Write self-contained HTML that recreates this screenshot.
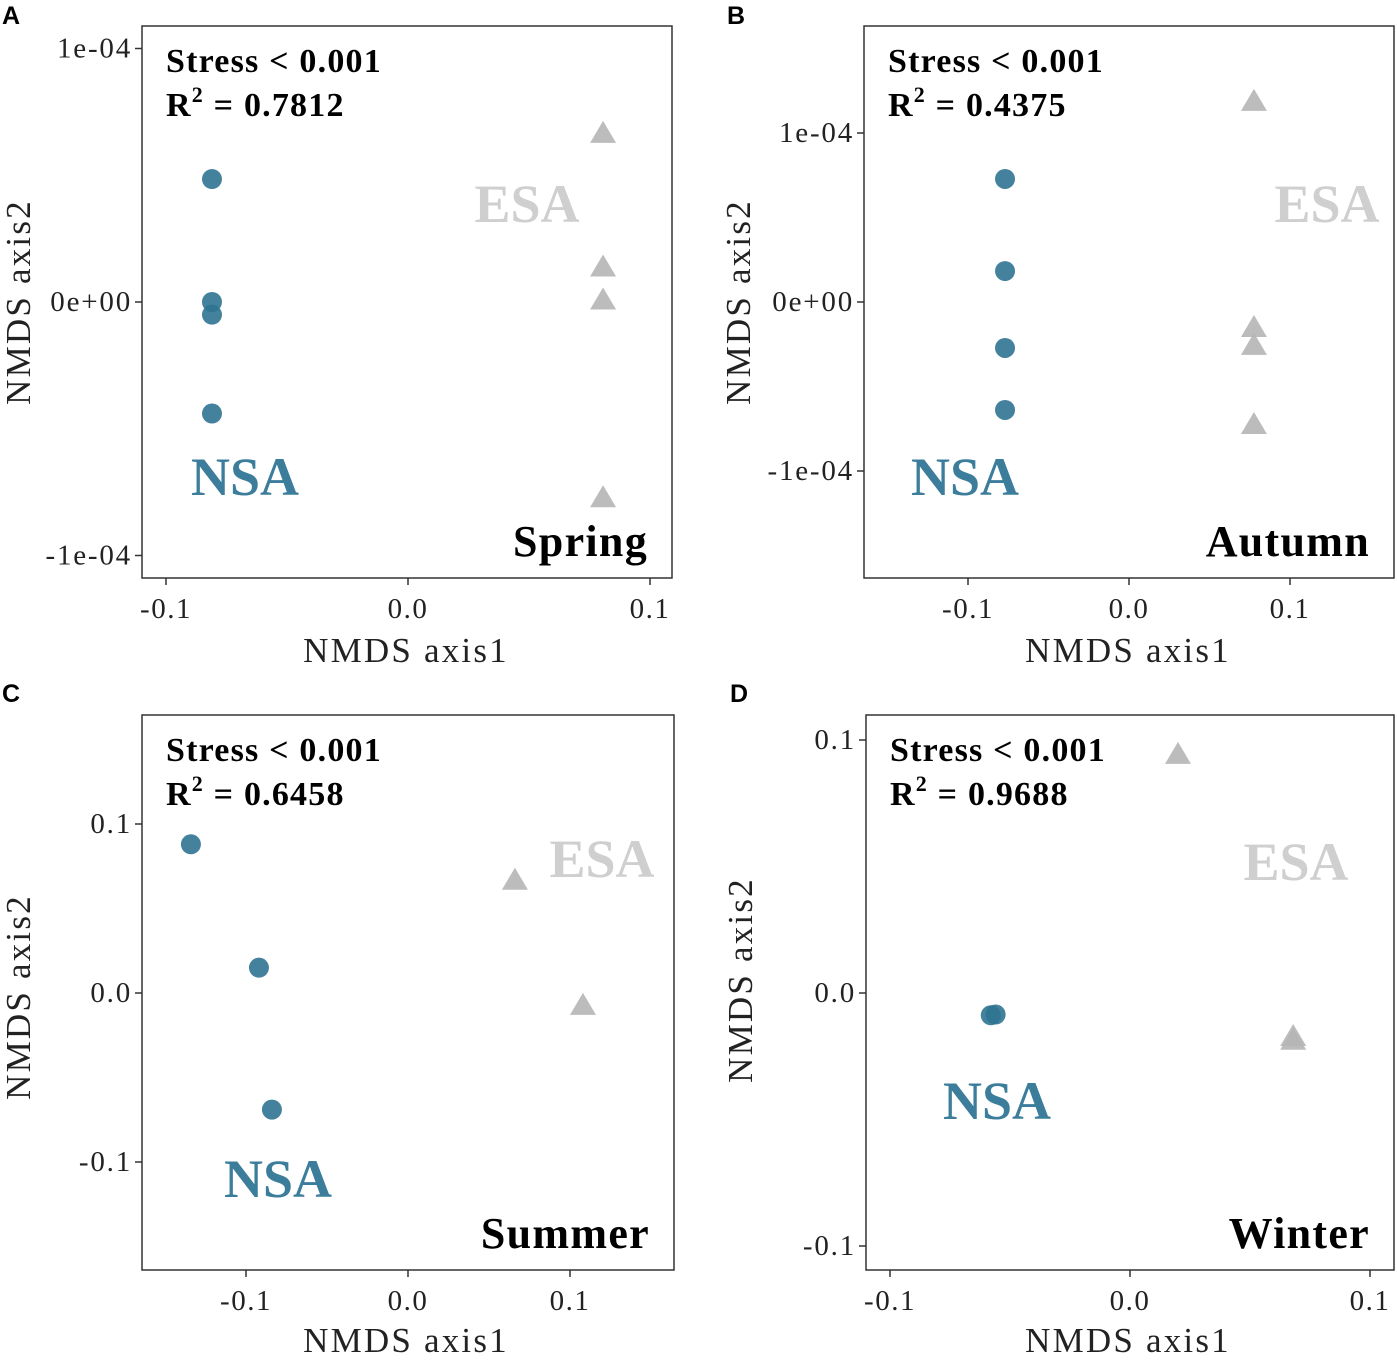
<!DOCTYPE html>
<html><head><meta charset="utf-8"><style>
body{margin:0;background:#fff}
svg text{font-family:"Liberation Serif",serif}
</style></head><body>
<svg id="fig" width="1397" height="1356" viewBox="0 0 1397 1356" xmlns="http://www.w3.org/2000/svg"></svg>
<script>
// Panel A (Spring)
const aNsaX=[-0.081,-0.081,-0.081,-0.081];
const aNsaY=[0.485e-4,0,-0.05e-4,-0.44e-4];
const aEsaX=[0.0806,0.0806,0.0806,0.0806];
const aEsaY=[0.667e-4,0.14e-4,0.01e-4,-0.77e-4];
const aXTicks=[-0.1,0,0.1], aXLabels=["-0.1","0.0","0.1"];
const aYTicks=[1e-4,0,-1e-4], aYLabels=["1e-04","0e+00","-1e-04"];
// Panel B (Autumn)
const bNsaX=[-0.077,-0.077,-0.077,-0.077];
const bNsaY=[0.728e-4,0.183e-4,-0.272e-4,-0.639e-4];
const bEsaX=[0.0776,0.0776,0.0776,0.0776];
const bEsaY=[1.19e-4,-0.148e-4,-0.254e-4,-0.722e-4];
const bXTicks=[-0.1,0,0.1], bXLabels=["-0.1","0.0","0.1"];
const bYTicks=[1e-4,0,-1e-4], bYLabels=["1e-04","0e+00","-1e-04"];
// Panel C (Summer)
const cNsaX=[-0.134,-0.092,-0.084];
const cNsaY=[0.088,0.015,-0.069];
const cEsaX=[0.066,0.108];
const cEsaY=[0.067,-0.007];
const cXTicks=[-0.1,0,0.1], cXLabels=["-0.1","0.0","0.1"];
const cYTicks=[0.1,0,-0.1], cYLabels=["0.1","0.0","-0.1"];
// Panel D (Winter)
const dNsaX=[-0.058,-0.056];
const dNsaY=[-0.0088,-0.0085];
const dEsaX=[0.02,0.068,0.068];
const dEsaY=[0.0945,-0.0170,-0.0185];
const dXTicks=[-0.1,0,0.1], dXLabels=["-0.1","0.0","0.1"];
const dYTicks=[0.1,0,-0.1], dYLabels=["0.1","0.0","-0.1"];

const NS="http://www.w3.org/2000/svg";
const svg=document.getElementById('fig');
function mk(tag,attrs,parent,txt){const e=document.createElementNS(NS,tag);for(const k in attrs)e.setAttribute(k,attrs[k]);if(txt!==undefined)e.textContent=txt;(parent||svg).appendChild(e);return e;}

const panels=[
 {id:'a',letter:'A',box:[142,26,672,578],x0:408,xs:2420,y0:302,ys:253.5e4,nx:aNsaX,ny:aNsaY,ex:aEsaX,ey:aEsaY,xt:aXTicks,xl:aXLabels,yt:aYTicks,yl:aYLabels,r2:"0.7812",season:"Spring",nsa:[245,495],esa:[527,222],lx:2,ly:24,xtitle:[406,662],ytitle:[30,302]},
 {id:'b',letter:'B',box:[864,26,1394,578],x0:1129,xs:1610,y0:302,ys:169e4,nx:bNsaX,ny:bNsaY,ex:bEsaX,ey:bEsaY,xt:bXTicks,xl:bXLabels,yt:bYTicks,yl:bYLabels,r2:"0.4375",season:"Autumn",nsa:[965,495],esa:[1327,222],lx:727,ly:24,xtitle:[1128,662],ytitle:[750,302]},
 {id:'c',letter:'C',box:[142,715,674,1270],x0:408,xs:1620,y0:993,ys:1690,nx:cNsaX,ny:cNsaY,ex:cEsaX,ey:cEsaY,xt:cXTicks,xl:cXLabels,yt:cYTicks,yl:cYLabels,r2:"0.6458",season:"Summer",nsa:[278,1197],esa:[602,877],lx:2,ly:702,xtitle:[406,1352],ytitle:[30,997]},
 {id:'d',letter:'D',box:[866,715,1394,1270],x0:1130,xs:2400,y0:993,ys:2530,nx:dNsaX,ny:dNsaY,ex:dEsaX,ey:dEsaY,xt:dXTicks,xl:dXLabels,yt:dYTicks,yl:dYLabels,r2:"0.9688",season:"Winter",nsa:[997,1119],esa:[1296,880],lx:730,ly:702,xtitle:[1128,1352],ytitle:[752,980]}
];

panels.forEach(p=>{
 const g=mk('g',{});  
 const [l,t,r,b]=p.box;
 const X=v=>p.x0+v*p.xs, Y=v=>p.y0-v*p.ys;
 const lt=mk('text',{x:p.lx,y:p.ly,'font-size':25,'font-weight':'bold',style:'font-family:"Liberation Sans",sans-serif'},g,p.letter);
  
 const bx=mk('rect',{x:l,y:t,width:r-l,height:b-t,fill:'none',stroke:'#333','stroke-width':1.5},g);
  
 p.xt.forEach((v,i)=>{const x=X(v);mk('line',{x1:x,x2:x,y1:b,y2:b+7,stroke:'#333','stroke-width':1.5},g);
  const tx=mk('text',{x:x,y:b+40,'font-size':29,'text-anchor':'middle',fill:'#222','letter-spacing':1.5},g,p.xl[i]);
   });
 p.yt.forEach((v,i)=>{const y=Y(v);mk('line',{x1:l-7,x2:l,y1:y,y2:y,stroke:'#333','stroke-width':1.5},g);
  const tx=mk('text',{x:l-10,y:y+9,'font-size':29,'text-anchor':'end',fill:'#222','letter-spacing':1.8},g,p.yl[i]);
   });
 const xtl=mk('text',{x:p.xtitle[0],y:p.xtitle[1],'font-size':35,'text-anchor':'middle',fill:'#222','letter-spacing':2.2},g,'NMDS axis1');
  
 const ytl=mk('text',{x:p.ytitle[0],y:p.ytitle[1],'font-size':35,'text-anchor':'middle',fill:'#222','letter-spacing':2.2,transform:`rotate(-90 ${p.ytitle[0]} ${p.ytitle[1]})`},g,'NMDS axis2');
  
 const s1=mk('text',{x:l+24,y:t+46,'font-size':34,'font-weight':'bold','letter-spacing':1.2},g,'Stress < 0.001');
  
 const s2=mk('text',{x:l+24,y:t+90,'font-size':34,'font-weight':'bold','letter-spacing':1.2},g);
  
 s2.innerHTML='R<tspan font-size="22" dy="-14">2</tspan><tspan dy="14"> = '+p.r2+'</tspan>';
 const ns=mk('text',{x:p.nsa[0],y:p.nsa[1],'font-size':54,'font-weight':'bold','text-anchor':'middle',fill:'#3b7d9a'},g,'NSA');
  
 const es=mk('text',{x:p.esa[0],y:p.esa[1],'font-size':54,'font-weight':'bold','text-anchor':'middle',fill:'#cfcfcf'},g,'ESA');
  
 const se=mk('text',{x:r-24,y:b-22,'font-size':44,'font-weight':'bold','text-anchor':'end','letter-spacing':1.3},g,p.season);
  
 p.nx.forEach((v,i)=>{const c=mk('circle',{cx:X(v),cy:Y(p.ny[i]),r:10,fill:'#2f7391','fill-opacity':0.9},g);
   });
 p.ex.forEach((v,i)=>{const x=X(v),y=Y(p.ey[i]);
  const tr=mk('polygon',{points:`${x-13},${y+10} ${x+13},${y+10} ${x},${y-12}`,fill:'#b5b5b5','fill-opacity':0.9},g);
   });
});
</script>
</body></html>
